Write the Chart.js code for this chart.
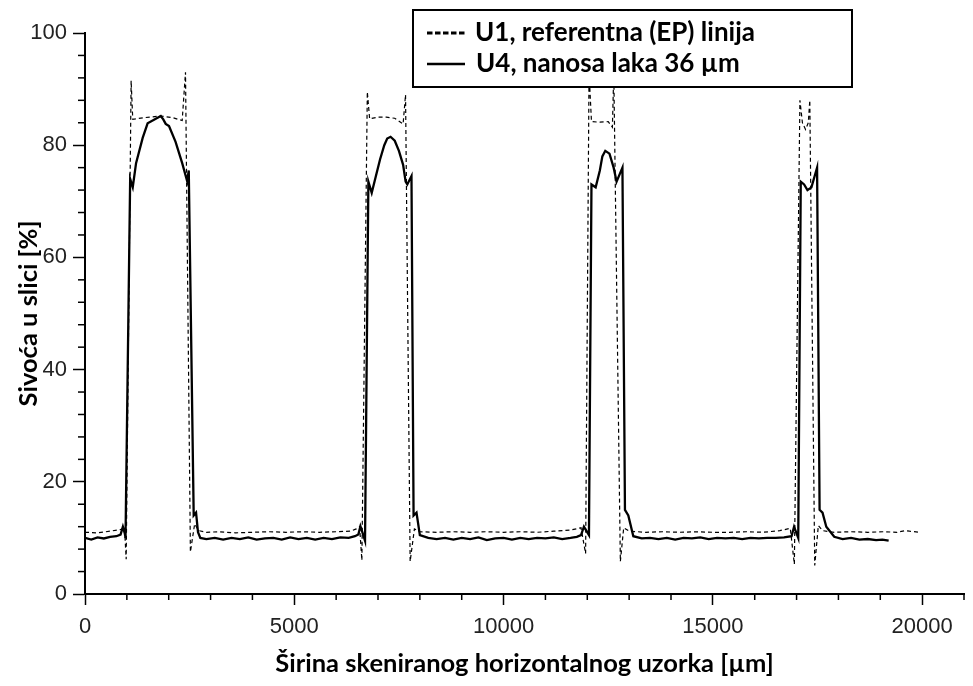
<!DOCTYPE html>
<html>
<head>
<meta charset="utf-8">
<script src="https://cdn.jsdelivr.net/npm/chart.js@4.4.0/dist/chart.umd.min.js"></script>
<style>
  html, body { margin: 0; padding: 0; background: #fff; }
  #wrap { width: 973px; height: 686px; position: relative; }
</style>
</head>
<body>
<div id="wrap"><canvas id="profileChart"></canvas></div>
<script>
// Grey level profile across the scanned sample

const seriesNames = ["U1, referentna (EP) linija", "U4, nanosa laka 36 \u00b5m"];
const axisTitleX = "\u0160irina skeniranog horizontalnog uzorka [\u00b5m]";
const axisTitleY = "Sivo\u0107a u slici [%]";

// U1 - reference line (dashed)
const u1X = [0, 300, 600, 850, 944, 984, 1102, 1141, 1400, 1810, 2100, 2322, 2401, 2518, 2620, 2715,
  2900, 3200, 3600, 4000, 4400, 4800, 5200, 5600, 6000, 6350, 6480, 6560, 6615, 6745, 6800, 7000, 7200,
  7400, 7600, 7658, 7768, 7870, 8000, 8400, 8800, 9200, 9600, 10000, 10400, 10800, 11200, 11600, 11850,
  11960, 12042, 12100, 12300, 12500, 12600, 12633, 12790, 12870, 13000, 13400, 13800, 14200, 14600,
  15000, 15400, 15800, 16200, 16600, 16850, 16947, 17080, 17140, 17214, 17280, 17316, 17434, 17520,
  17620, 17900, 18300, 18700, 19100, 19400, 19600, 19700, 19950];
const u1Y = [11.0, 10.9, 11.2, 11.5, 11.8, 6.2, 91.5, 84.6, 84.9, 85.2, 84.9, 84.4, 93.0, 7.5, 12.5, 11.3,
  11.0, 11.1, 10.9, 11.0, 11.1, 11.0, 11.1, 11.0, 11.1, 11.2, 11.6, 12.0, 6.0, 89.5, 84.7, 85.0, 85.0,
  84.8, 83.8, 89.0, 5.8, 11.6, 11.1, 11.0, 11.1, 11.0, 11.1, 11.0, 11.1, 11.0, 11.2, 11.4, 11.8,
  7.2, 93.0, 84.2, 84.1, 84.2, 83.2, 93.0, 5.8, 11.8, 11.2, 11.0, 11.1, 11.0, 11.1,
  11.0, 11.0, 11.1, 11.0, 11.3, 11.7, 5.3, 88.0, 84.0, 82.8, 84.0, 88.0, 5.1, 12.2,
  11.3, 11.0, 11.1, 11.0, 11.1, 11.0, 11.3, 11.2, 11.0];

// U4 - lacquer coated 36 um (solid)
const u4X = [0, 150, 300, 450, 600, 750, 850, 905, 950, 968, 1079, 1141, 1220, 1378, 1496, 1692, 1810,
  1870, 1928, 2007, 2164, 2322, 2440, 2479, 2597, 2653, 2700, 2755,
  2900, 3100, 3300, 3500, 3700, 3900, 4100, 4300, 4500, 4700, 4900, 5100, 5300, 5500, 5700, 5900,
  6100, 6300, 6450, 6530, 6580, 6690, 6770, 6850, 6950, 7050, 7150, 7220, 7300, 7400, 7500, 7600, 7660,
  7700, 7800, 7850, 7920, 8000, 8200, 8400, 8600, 8800, 9000, 9200, 9400, 9600, 9800, 10000, 10200,
  10400, 10600, 10800, 11000, 11200, 11400, 11600, 11750, 11850, 11920, 12040, 12100, 12200, 12300,
  12360, 12430, 12530, 12630, 12700, 12840, 12900, 12980, 13100, 13300, 13500, 13700, 13900, 14100,
  14300, 14500, 14700, 14900, 15100, 15300, 15500, 15700, 15900, 16100, 16300, 16500, 16700, 16880,
  16940, 17040, 17100, 17180, 17260, 17320, 17355, 17490, 17550, 17620, 17710, 17900, 18100, 18300,
  18500, 18700, 18900, 19050, 19200];
const u4Y = [10.0, 9.7, 10.1, 9.9, 10.2, 10.3, 10.6, 12.0, 10.8, 10.0, 74.0, 72.5, 76.8, 81.3, 83.9, 84.7, 85.2,
  84.6, 83.8, 83.4, 80.6, 76.8, 73.6, 75.5, 14.0, 14.5, 11.0, 10.0,
  9.8, 10.0, 9.7, 10.0, 9.8, 10.1, 9.7, 9.9, 10.0, 9.7, 10.1, 9.8, 10.0, 9.7, 10.0, 9.8, 10.1,
  10.0, 10.3, 10.6, 12.1, 9.5, 73.5, 71.5, 74.5, 77.5, 80.0, 81.2, 81.5, 80.8, 79.0, 76.5, 73.5, 73.0,
  74.5, 14.0, 14.5, 10.5, 10.0, 9.8, 10.0, 9.7, 10.0, 9.8, 10.1, 9.6, 9.9, 10.0, 9.7, 10.0,
  9.8, 10.0, 9.9, 10.1, 9.8, 10.0, 10.2, 10.5, 12.0, 10.5, 73.0, 72.5, 75.5, 78.0,
  79.0, 78.5, 76.0, 73.5, 76.0, 15.0, 14.0, 10.3, 9.9, 10.0, 9.8, 10.0, 9.7, 10.0,
  9.9, 10.1, 9.8, 10.0, 9.9, 10.0, 9.8, 10.0, 9.9, 10.0, 10.0, 10.1, 10.3, 12.0,
  10.0, 73.5, 73.0, 72.0, 72.3, 72.5, 76.0, 15.0, 14.5, 12.0, 10.2, 9.8, 10.0, 9.7,
  9.8, 9.6, 9.7, 9.5, 9.7];

// axis ticks
const xMin = 0, xMax = 21000, xStep = 1000, xLabelEvery = 5000;
const yMin = 0, yMax = 100, yStep = 4, yLabelEvery = 20;

function toPoints(xs, ys) {
  return xs.map((x, i) => ({ x: x, y: ys[i] }));
}

const tickFont = { family: "'Liberation Sans', Arial, sans-serif", size: 22 };
const titleFont = { family: "Lato, 'Open Sans', sans-serif", size: 25.5, weight: "bold" };

// short minor ticks + legend box
const decorPlugin = {
  id: "decor",
  afterDraw(chart) {
    const ctx = chart.ctx;
    const xs = chart.scales.x;
    const ys = chart.scales.y;
    ctx.save();
    ctx.strokeStyle = "#000";
    ctx.lineWidth = 1.5;
    xs.ticks.forEach(t => {
      if (t.value % xLabelEvery === 0) return;
      const px = xs.getPixelForValue(t.value);
      ctx.beginPath();
      ctx.moveTo(px, xs.top);
      ctx.lineTo(px, xs.top + 6);
      ctx.stroke();
    });
    ys.ticks.forEach(t => {
      if (t.value % yLabelEvery === 0) return;
      const py = ys.getPixelForValue(t.value);
      ctx.beginPath();
      ctx.moveTo(ys.right, py);
      ctx.lineTo(ys.right - 7, py);
      ctx.stroke();
    });

    // legend
    const box = { left: 413, top: 10, right: 852, bottom: 87 };
    ctx.fillStyle = "#fff";
    ctx.fillRect(box.left, box.top, box.right - box.left, box.bottom - box.top);
    ctx.lineWidth = 2;
    ctx.strokeRect(box.left, box.top, box.right - box.left, box.bottom - box.top);

    const rows = [33, 64];
    ctx.lineWidth = 3;
    ctx.setLineDash([5.5, 2.5]);
    ctx.beginPath();
    ctx.moveTo(427, rows[0]);
    ctx.lineTo(465, rows[0]);
    ctx.stroke();
    ctx.setLineDash([]);
    ctx.lineWidth = 2.5;
    ctx.beginPath();
    ctx.moveTo(427, rows[1]);
    ctx.lineTo(465, rows[1]);
    ctx.stroke();

    ctx.fillStyle = "#000";
    ctx.font = "bold 26px Lato, 'Open Sans', sans-serif";
    ctx.textBaseline = "middle";
    ctx.fillText(seriesNames[0], 475, rows[0]);
    ctx.fillText(seriesNames[1], 476, rows[1]);
    ctx.restore();
  }
};

new Chart(document.getElementById("profileChart"), {
  type: "line",
  data: {
    datasets: [
      {
        label: seriesNames[0],
        data: toPoints(u1X, u1Y),
        borderColor: "#000",
        borderWidth: 1.2,
        borderDash: [4, 3],
        pointRadius: 0,
        tension: 0,
        fill: false
      },
      {
        label: seriesNames[1],
        data: toPoints(u4X, u4Y),
        borderColor: "#000",
        borderWidth: 2.3,
        pointRadius: 0,
        tension: 0,
        fill: false
      }
    ]
  },
  options: {
    responsive: true,
    maintainAspectRatio: false,
    animation: false,
    layout: { padding: { top: 33, right: 0, left: 0, bottom: 0 } },
    plugins: {
      legend: { display: false },
      tooltip: { enabled: false }
    },
    scales: {
      x: {
        type: "linear",
        min: xMin,
        max: xMax,
        afterFit(scale) { scale.height = 92; },
        border: { display: true, color: "#000", width: 2 },
        grid: {
          drawOnChartArea: false,
          drawTicks: true,
          tickLength: 11,
          tickWidth: 1.5,
          tickColor: c => (c.tick && c.tick.value % xLabelEvery === 0) ? "#000" : "rgba(0,0,0,0)"
        },
        ticks: {
          stepSize: xStep,
          autoSkip: false,
          maxRotation: 0,
          padding: 9,
          color: "#222",
          font: tickFont,
          callback: v => (v % xLabelEvery === 0 ? String(v) : "")
        },
        title: {
          display: true,
          text: axisTitleX,
          color: "#000",
          font: titleFont,
          padding: { top: 0, bottom: 7 }
        }
      },
      y: {
        min: yMin,
        max: yMax,
        afterFit(scale) { scale.width = 85; },
        border: { display: true, color: "#000", width: 2 },
        grid: {
          drawOnChartArea: false,
          drawTicks: true,
          tickLength: 12,
          tickWidth: 1.5,
          tickColor: c => (c.tick && c.tick.value % yLabelEvery === 0) ? "#000" : "rgba(0,0,0,0)"
        },
        ticks: {
          stepSize: yStep,
          autoSkip: false,
          padding: 6,
          color: "#222",
          font: tickFont,
          callback: v => (v % yLabelEvery === 0 ? String(v) : "")
        },
        title: {
          display: true,
          text: axisTitleY,
          color: "#000",
          font: titleFont,
          padding: { top: 13, bottom: 0 }
        }
      }
    }
  },
  plugins: [decorPlugin]
});
</script>
</body>
</html>
